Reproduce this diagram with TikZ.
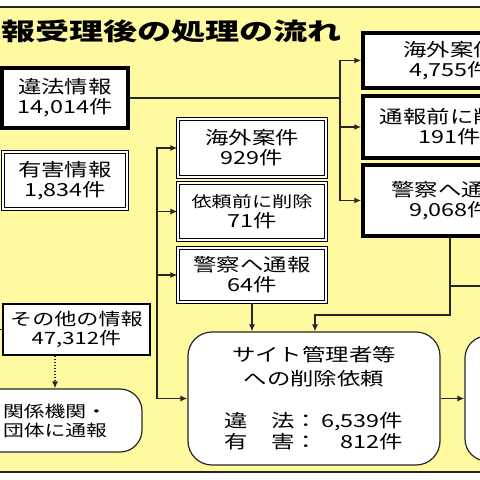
\documentclass[tikz,border=0pt]{standalone}
\usepackage{fontspec}
\usetikzlibrary{arrows.meta}
\newfontfamily\jp[FakeStretch=1.3]{Noto Sans CJK JP}
\newfontfamily\jpt[FakeStretch=1.42]{Noto Sans CJK JP}
\definecolor{bgy}{RGB}{255,249,160}
\begin{document}
\begin{tikzpicture}[x=1pt,y=-1pt,
  txt/.style={font=\jp\fontsize{18}{20}\selectfont, align=center, inner sep=0pt, text=black},
  thickbox/.style={txt, draw=black, line width=3.5pt, fill=white},
  dblbox/.style={txt, draw=black, line width=1.1pt, double=white, double distance=1.5pt, fill=white},
  thinbox/.style={txt, draw=black, line width=1.3pt, fill=white},
  roundbox/.style={txt, draw=black!85, line width=1.2pt, rounded corners=22pt, fill=white},
  conn/.style={draw=black!85, line width=1.3pt},
  arr/.style={conn, -{Latex[length=7pt,width=6pt]}},
  dotarr/.style={arr, dash pattern=on 1.5pt off 1.5pt}]
\clip (0,0) rectangle (480,480);
\fill[white] (0,0) rectangle (480,480);
\fill[bgy] (0,7) rectangle (480,472);
\draw[line width=1.8pt, black!85] (0,7) -- (480,7) (0,472) -- (480,472);

\node[txt, anchor=west, font=\jpt\bfseries\fontsize{24}{26}\selectfont] (title) at (1,31) {報受理後の処理の流れ};

% left column
\node[thickbox, minimum width=126pt, minimum height=60pt] (ihou) at (65,98) {違法情報\\14,014件};
\node[dblbox, minimum width=124pt, minimum height=57pt] (yugai) at (65,180.5) {有害情報\\1,834件};
\node[thinbox, minimum width=147pt, minimum height=51pt, font=\jp\fontsize{17}{19}\selectfont] (sonota) at (76.5,329.5) {その他の情報\\47,312件};
\node[roundbox, minimum width=174pt, minimum height=63pt, font=\jp\fontsize{16}{19}\selectfont] (kankei) at (55,420.5) {関係機関・\\団体に通報};

% middle column
\node[dblbox, minimum width=148pt, minimum height=58pt] (m1) at (252,148) {海外案件\\929件};
\node[dblbox, minimum width=148pt, minimum height=57pt] (m2) at (252,211.5) {{\fontsize{15.5}{20}\selectfont 依頼前に削除}\\71件};
\node[dblbox, minimum width=148pt, minimum height=54pt] (m3) at (252,275) {警察へ通報\\64件};

% right column
\node[thickbox, minimum width=174pt, minimum height=55pt] (r1) at (450,60.5) {海外案件\\4,755件};
\node[thickbox, minimum width=174pt, minimum height=62pt] (r2) at (450,127) {通報前に削除\\191件};
\node[thickbox, minimum width=174pt, minimum height=71pt] (r3) at (450,200.5) {警察へ通報\\9,068件};

% bottom
\node[roundbox, minimum width=252pt, minimum height=133pt, rounded corners=24pt, font=\jp\fontsize{18}{21}\selectfont] (site) at (314,398.5)
  {サイト管理者等\\[3pt]への削除依頼\\[21pt]違　法：\makebox[85pt][r]{6,539件}\\有　害：\makebox[85pt][r]{812件}};
\node[roundbox, minimum width=175pt, minimum height=125pt] (rb) at (552.5,398.5) {};

% connectors
\coordinate (jA) at (340,98);
\draw[conn] (ihou.east) -- (jA);
\draw[arr] (jA) |- (r1.west);
\draw[arr] (jA) |- (r2.west);
\draw[arr] (jA) |- (r3.west);

\coordinate (jB) at (157,250);
\draw[arr] (jB) |- (m1.west);
\draw[arr] (jB) |- (m2.west);
\draw[arr] (jB) |- (m3.west);
\draw[arr] (jB) |- (site.west);

\draw[arr] (m3.south) -- (m3.south |- site.north);
\coordinate (jC) at (315,315);
\draw[arr] (r3.south) |- (jC) -- (jC |- site.north);
\coordinate (jD) at (450,286);
\coordinate (offR) at (490,286);
\draw[conn] (jD) -- (offR);
\draw[arr] (site.east) -- (rb.west);

\draw[dotarr] (kankei.north |- sonota.south) -- (kankei.north);
\coordinate (offL) at (-20,329.5);
\draw[conn] (offL) -- (sonota.west);
\end{tikzpicture}
\end{document}
